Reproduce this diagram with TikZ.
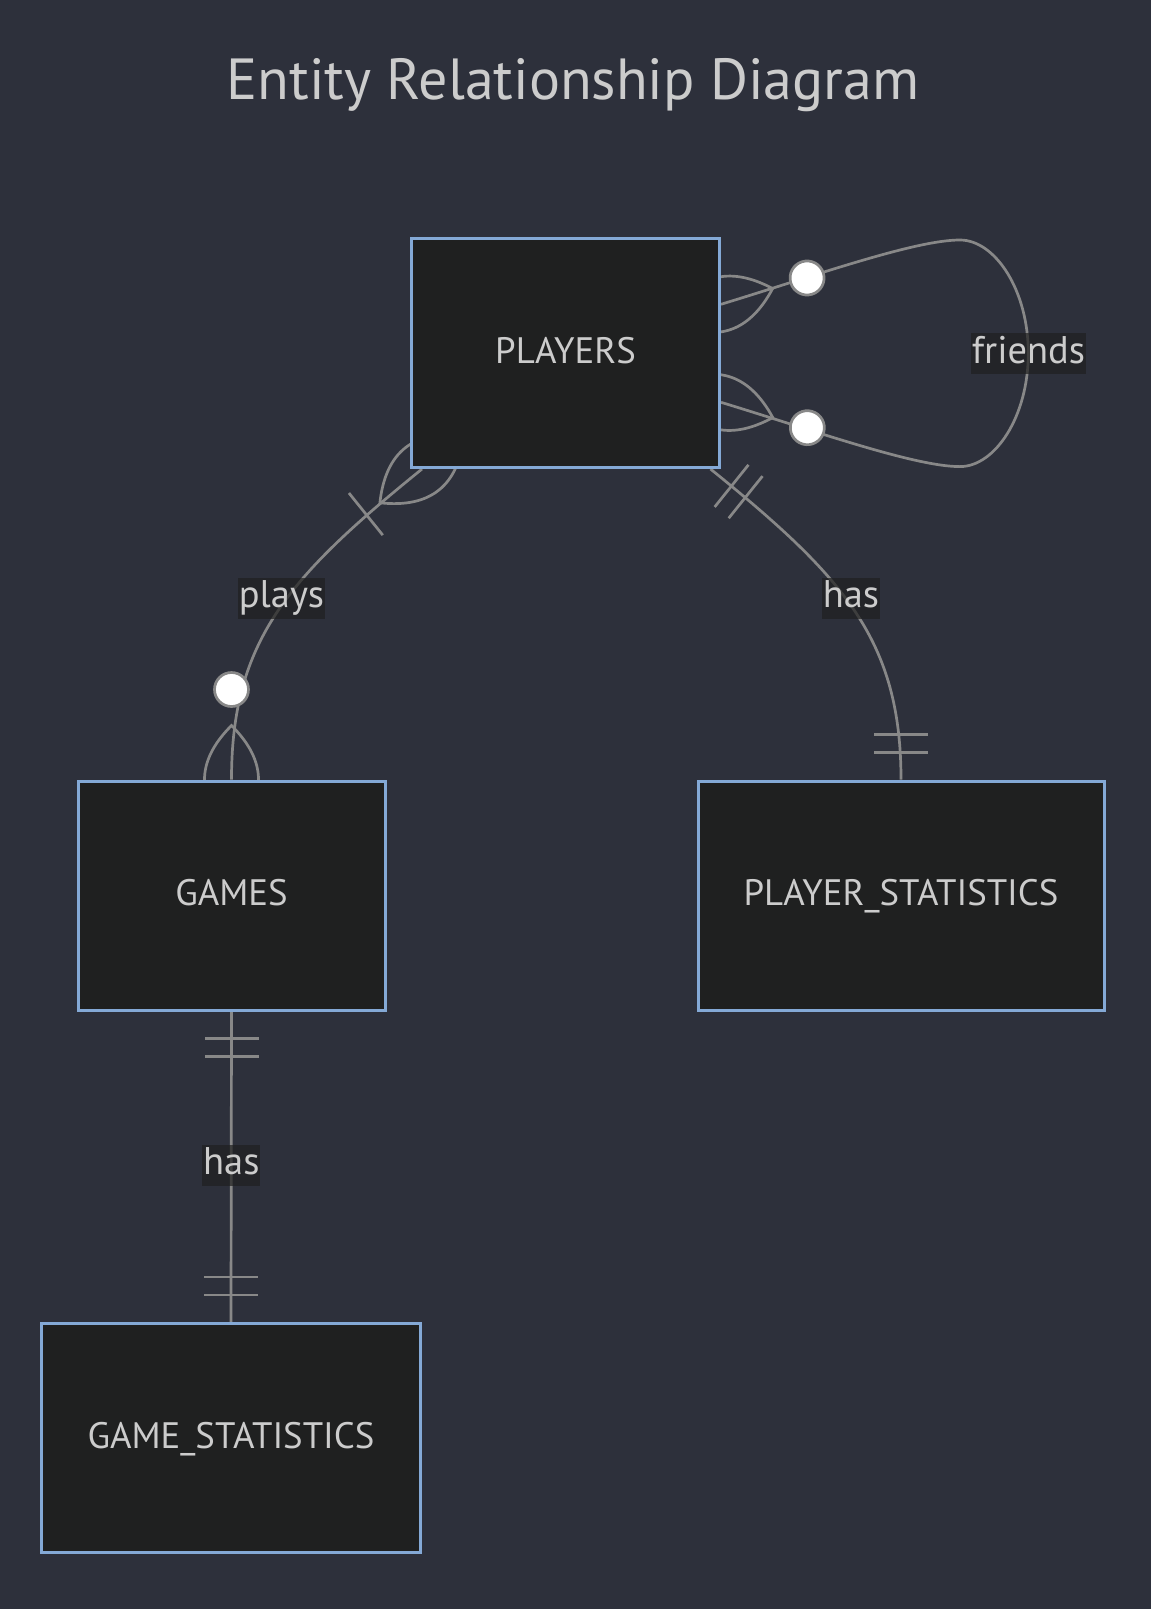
\documentclass[tikz,border=0pt]{standalone}
\usepackage{fontspec}
\setmainfont{PT Sans}
\usetikzlibrary{calc}
\definecolor{bgc}{HTML}{2D303B}
\definecolor{boxfill}{HTML}{1F2020}
\definecolor{boxline}{HTML}{84A9D6}
\definecolor{edgec}{HTML}{888888}
\definecolor{txtc}{HTML}{CCCCCC}
\pgfdeclarelayer{bglayer}
\pgfdeclarelayer{edgelayer}
\pgfsetlayers{bglayer,edgelayer,main}
\newcommand\entfont{\fontsize{36.8}{42}\selectfont}
\newcommand\lblfont{\fontsize{38.5}{44}\selectfont}
\newcommand\ttlfont{\fontsize{58}{66}\selectfont}
\tikzset{
  entity/.style={draw=boxline, fill=boxfill, line width=3pt, text=txtc, font=\entfont,
    minimum height=229pt, inner sep=0pt, text height=26pt, text depth=6pt},
  rel/.style={draw=edgec, line width=2.7pt},
  rellabel/.style={fill=boxfill, fill opacity=0.7, text opacity=1, text=txtc, font=\lblfont,
    inner xsep=1pt, inner ysep=2pt, text height=28pt, text depth=9pt},
  zeromany/.pic={
    \draw[rel] (-54,0) .. controls (-18,36) and (18,36) .. (54,0) .. controls (18,-36) and (-18,-36) .. cycle;
    \draw[rel, fill=white] (90,0) circle[radius=17];
  },
  onemany/.pic={
    \draw[rel] (-54,0) .. controls (-18,36) and (18,36) .. (54,0) .. controls (18,-36) and (-18,-36) .. cycle;
    \draw[rel] (72,-27) -- (72,27);
  },
  onlyone/.pic={
    \draw[rel] (27,-27) -- (27,27) (45,-27) -- (45,27);
  }
}
\begin{document}
\begin{tikzpicture}[x=1pt, y=-1pt]
\useasboundingbox (0,0) rectangle (1151,1609);
\begin{pgfonlayer}{bglayer}
\fill[bgc] (0,0) rectangle (1151,1609);
\end{pgfonlayer}

\node[text=txtc, font=\ttlfont, anchor=base] (title) at (573,99.5) {Entity Relationship Diagram};

\node[entity, minimum width=308pt] (players) at (565.5,353) {PLAYERS};
\node[entity, minimum width=307pt] (games) at (231.5,895.5) {GAMES};
\node[entity, minimum width=406pt] (pstat) at (901,895.5) {PLAYER\_STATISTICS};
\node[entity, minimum width=378.5pt] (gstat) at (231,1438) {GAME\_STATISTICS};

\coordinate (pl1) at ($(players.south)+(-143.5,0)$);
\coordinate (ph1) at ($(players.south)+(145,0)$);
\coordinate (ft) at ($(players.east)+(0,-48.7)$);
\coordinate (fb) at ($(players.east)+(0,49.3)$);

\begin{pgfonlayer}{edgelayer}
\draw[rel] (pl1) .. controls (289.2,576.6) and (231.5,640) .. (games.north);
\draw[rel] (ph1) .. controls (843.4,576.6) and (901,640) .. (pstat.north);
\draw[rel] (games.south) -- (gstat.north);
\draw[rel] (ft) .. controls (817,275) and (915,240) .. (960,240)
  .. controls (995,240) and (1028.3,290) .. (1028.3,353.3)
  .. controls (1028.3,416.6) and (995,466.6) .. (960,466.6)
  .. controls (915,466.6) and (817,431.6) .. (fb);

\node[rellabel] (lfriends) at (1028.5,353.5) {friends};
\node[rellabel] (lplays) at (281.5,598) {plays};
\node[rellabel] (lhas1) at (851,598) {has};
\node[rellabel] (lhas2) at (231.3,1165) {has};

\pic[rotate=-141.25] at (pl1) {onemany};
\pic[rotate=90] at (games.north) {zeromany};
\pic[rotate=-38.75] at (ph1) {onlyone};
\pic[rotate=90] at (pstat.north) {onlyone};
\pic[rotate=-90] at (games.south) {onlyone};
\pic[rotate=90] at (gstat.north) {onlyone};
\pic[rotate=17] at (ft) {zeromany};
\pic[rotate=-16.4] at (fb) {zeromany};
\end{pgfonlayer}
\end{tikzpicture}
\end{document}
